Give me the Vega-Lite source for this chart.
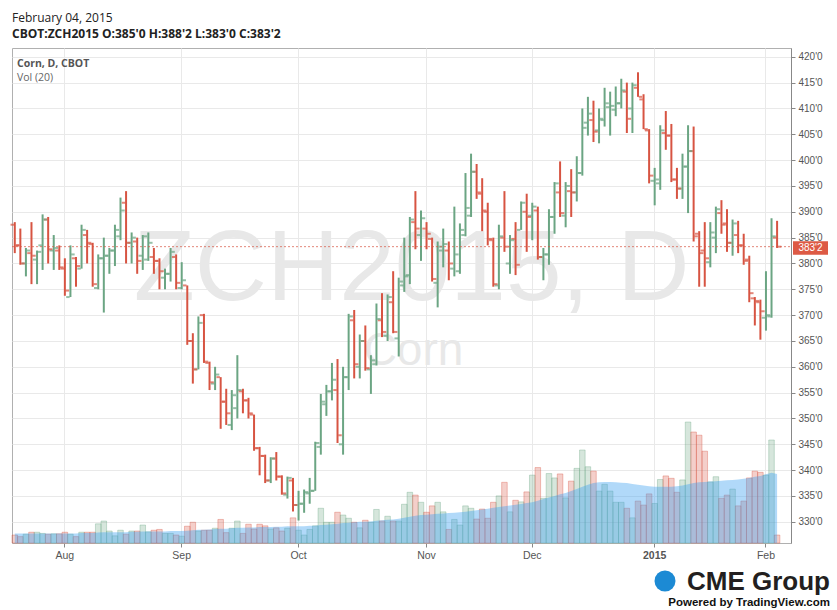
{
"$schema": "https://vega.github.io/schema/vega-lite/v6.json",
"width": 779, "height": 495, "autosize": "none",
"padding": {"left": 12, "top": 48, "right": 46, "bottom": 67},
"background": "#ffffff",
"config": {"view": {"stroke": "#b0b0b0"}},
"title": {"text": "February 04, 2015", "subtitle": "CBOT:ZCH2015 O:385'0 H:388'2 L:383'0 C:383'2", "anchor": "start", "frame": "group", "font": "Open Sans", "fontSize": 12, "fontWeight": "normal", "color": "#222222", "subtitleFont": "Open Sans", "subtitleFontSize": 12, "subtitleFontWeight": "bold", "subtitleColor": "#222222", "offset": 7, "subtitlePadding": 4},
"datasets": {"corn": [
{"d":"2014-07-21","o":387.5,"h":388,"l":382,"c":383.5,"v":20,"ma":24},
{"d":"2014-07-22","o":383.5,"h":386.75,"l":379.75,"c":380,"v":16,"ma":24},
{"d":"2014-07-23","o":380,"h":383,"l":377.5,"c":382.5,"v":22,"ma":24},
{"d":"2014-07-24","o":382,"h":388,"l":376,"c":381.5,"v":27,"ma":24},
{"d":"2014-07-25","o":380.75,"h":382.5,"l":376,"c":382.25,"v":27,"ma":24},
{"d":"2014-07-28","o":383.5,"h":389.5,"l":378.75,"c":388.5,"v":24,"ma":24},
{"d":"2014-07-29","o":388.5,"h":389,"l":380,"c":382.75,"v":22,"ma":24},
{"d":"2014-07-30","o":382.5,"h":385.5,"l":378.75,"c":383,"v":23,"ma":24},
{"d":"2014-07-31","o":382.5,"h":383.5,"l":378.75,"c":379.25,"v":23,"ma":24},
{"d":"2014-08-01","o":379,"h":381,"l":373.75,"c":374.75,"v":27,"ma":24},
{"d":"2014-08-04","o":373.5,"h":383.5,"l":373.5,"c":381.75,"v":22,"ma":24},
{"d":"2014-08-05","o":381,"h":381.25,"l":375.5,"c":379.5,"v":16,"ma":24},
{"d":"2014-08-06","o":379,"h":387.5,"l":379,"c":386.5,"v":27,"ma":25},
{"d":"2014-08-07","o":385.5,"h":386.5,"l":380,"c":384,"v":27,"ma":25},
{"d":"2014-08-08","o":383.75,"h":384,"l":375.5,"c":376,"v":27,"ma":25},
{"d":"2014-08-11","o":375.25,"h":381.75,"l":375,"c":381,"v":48,"ma":26},
{"d":"2014-08-12","o":381,"h":385,"l":370.5,"c":381.5,"v":55,"ma":27},
{"d":"2014-08-13","o":381.5,"h":383,"l":378,"c":382.5,"v":30,"ma":27},
{"d":"2014-08-14","o":382.5,"h":387.5,"l":379.5,"c":386.5,"v":18,"ma":27},
{"d":"2014-08-15","o":385.25,"h":392.75,"l":384.5,"c":390.25,"v":32,"ma":27},
{"d":"2014-08-18","o":391.75,"h":394,"l":380,"c":384,"v":22,"ma":27},
{"d":"2014-08-19","o":384,"h":386,"l":380,"c":385,"v":30,"ma":28},
{"d":"2014-08-20","o":384.25,"h":385,"l":378,"c":380.5,"v":30,"ma":28},
{"d":"2014-08-21","o":381.5,"h":385.5,"l":378.75,"c":385.25,"v":45,"ma":29},
{"d":"2014-08-22","o":380.75,"h":386,"l":380.5,"c":384,"v":28,"ma":29},
{"d":"2014-08-25","o":381.25,"h":383,"l":378,"c":380.5,"v":32,"ma":29},
{"d":"2014-08-26","o":380.5,"h":381,"l":375,"c":378.5,"v":34,"ma":29},
{"d":"2014-08-27","o":377.25,"h":379,"l":375,"c":378,"v":24,"ma":29},
{"d":"2014-08-28","o":378,"h":383,"l":376.5,"c":382.25,"v":24,"ma":30},
{"d":"2014-08-29","o":381.25,"h":381.75,"l":375,"c":376.25,"v":20,"ma":30},
{"d":"2014-09-02","o":375.25,"h":380.25,"l":375,"c":376.75,"v":17,"ma":30},
{"d":"2014-09-03","o":375.75,"h":375.75,"l":364.25,"c":365,"v":42,"ma":31},
{"d":"2014-09-04","o":365,"h":366.5,"l":356.75,"c":359.5,"v":52,"ma":32},
{"d":"2014-09-05","o":359.5,"h":369.75,"l":359.5,"c":368.5,"v":30,"ma":33},
{"d":"2014-09-08","o":370,"h":370.25,"l":360.75,"c":361,"v":32,"ma":33},
{"d":"2014-09-09","o":360.75,"h":361,"l":355.5,"c":357,"v":32,"ma":34},
{"d":"2014-09-10","o":356.75,"h":360,"l":355.5,"c":358.5,"v":37,"ma":35},
{"d":"2014-09-11","o":358,"h":358,"l":348,"c":353.25,"v":59,"ma":36},
{"d":"2014-09-12","o":353.25,"h":355.75,"l":348.75,"c":351,"v":26,"ma":36},
{"d":"2014-09-15","o":348.75,"h":355.5,"l":347.75,"c":354.5,"v":37,"ma":37},
{"d":"2014-09-16","o":352,"h":362.25,"l":350,"c":355.5,"v":55,"ma":38},
{"d":"2014-09-17","o":355.25,"h":355.75,"l":351,"c":353.5,"v":24,"ma":38},
{"d":"2014-09-18","o":353.5,"h":354,"l":350,"c":351,"v":47,"ma":39},
{"d":"2014-09-19","o":350.75,"h":350.75,"l":343.75,"c":344.25,"v":35,"ma":39},
{"d":"2014-09-22","o":344.25,"h":344.5,"l":339,"c":342.75,"v":47,"ma":40},
{"d":"2014-09-23","o":342.75,"h":343,"l":337.5,"c":338,"v":43,"ma":40},
{"d":"2014-09-24","o":338,"h":342.5,"l":337.5,"c":342.25,"v":35,"ma":40},
{"d":"2014-09-25","o":342.25,"h":343.5,"l":338,"c":338.75,"v":38,"ma":41},
{"d":"2014-09-26","o":338.75,"h":339,"l":335.25,"c":335.5,"v":30,"ma":41},
{"d":"2014-09-29","o":335.25,"h":338.75,"l":334.5,"c":338.5,"v":37,"ma":42},
{"d":"2014-09-30","o":338,"h":338.5,"l":332,"c":333.25,"v":63,"ma":42},
{"d":"2014-10-01","o":333.25,"h":336,"l":330.25,"c":333.5,"v":32,"ma":42},
{"d":"2014-10-02","o":333.5,"h":336.25,"l":331.75,"c":335.75,"v":20,"ma":42},
{"d":"2014-10-03","o":335.5,"h":338.5,"l":333.5,"c":336,"v":34,"ma":43},
{"d":"2014-10-06","o":336,"h":345.5,"l":336,"c":345.25,"v":43,"ma":43},
{"d":"2014-10-07","o":344.5,"h":354.75,"l":343,"c":353.25,"v":87,"ma":45},
{"d":"2014-10-08","o":352.75,"h":356.5,"l":350.5,"c":355.25,"v":52,"ma":46},
{"d":"2014-10-09","o":355.25,"h":360.75,"l":353.5,"c":357.5,"v":52,"ma":47},
{"d":"2014-10-10","o":355.5,"h":361.5,"l":345.25,"c":346.75,"v":77,"ma":48},
{"d":"2014-10-13","o":345,"h":360,"l":343,"c":358,"v":70,"ma":50},
{"d":"2014-10-14","o":358,"h":370.25,"l":355.5,"c":369.75,"v":62,"ma":51},
{"d":"2014-10-15","o":369,"h":371,"l":357.75,"c":360.5,"v":52,"ma":52},
{"d":"2014-10-16","o":360,"h":366.25,"l":357.75,"c":365,"v":38,"ma":53},
{"d":"2014-10-17","o":365,"h":368,"l":359.25,"c":359.75,"v":57,"ma":53},
{"d":"2014-10-20","o":359.5,"h":362.25,"l":354.75,"c":361.25,"v":52,"ma":54},
{"d":"2014-10-21","o":360.5,"h":372.25,"l":360.25,"c":369.25,"v":84,"ma":56},
{"d":"2014-10-22","o":369,"h":374.25,"l":365.75,"c":366.75,"v":55,"ma":57},
{"d":"2014-10-23","o":366,"h":374,"l":365,"c":373.5,"v":67,"ma":58},
{"d":"2014-10-24","o":372.5,"h":378.5,"l":366.5,"c":366.75,"v":55,"ma":59},
{"d":"2014-10-27","o":365.5,"h":377.25,"l":362,"c":376.5,"v":55,"ma":61},
{"d":"2014-10-28","o":375.75,"h":385,"l":374.5,"c":377.5,"v":97,"ma":63},
{"d":"2014-10-29","o":377.75,"h":389,"l":376,"c":388.5,"v":127,"ma":66},
{"d":"2014-10-30","o":388,"h":394,"l":382.75,"c":386.75,"v":120,"ma":68},
{"d":"2014-10-31","o":385.5,"h":390.25,"l":380.5,"c":388.75,"v":102,"ma":70},
{"d":"2014-11-03","o":386.75,"h":388,"l":382.75,"c":385.75,"v":77,"ma":71},
{"d":"2014-11-04","o":384.75,"h":385,"l":376.5,"c":377,"v":93,"ma":72},
{"d":"2014-11-05","o":376.25,"h":384.25,"l":371.5,"c":383.25,"v":102,"ma":73},
{"d":"2014-11-06","o":382.5,"h":386.75,"l":379.25,"c":383.75,"v":78,"ma":74},
{"d":"2014-11-07","o":382.5,"h":384.25,"l":376.75,"c":380,"v":34,"ma":75},
{"d":"2014-11-10","o":379,"h":391,"l":377.5,"c":381.75,"v":59,"ma":76},
{"d":"2014-11-11","o":378.5,"h":387.75,"l":378,"c":386.5,"v":45,"ma":77},
{"d":"2014-11-12","o":385.5,"h":397.5,"l":385.25,"c":390.75,"v":93,"ma":78},
{"d":"2014-11-13","o":389.25,"h":401.25,"l":389,"c":397.75,"v":87,"ma":80},
{"d":"2014-11-14","o":397.75,"h":399.25,"l":392.5,"c":393.75,"v":60,"ma":82},
{"d":"2014-11-17","o":393.5,"h":396.5,"l":386.25,"c":390.25,"v":85,"ma":84},
{"d":"2014-11-18","o":390,"h":391.75,"l":383.5,"c":384.75,"v":62,"ma":86},
{"d":"2014-11-19","o":384.5,"h":385,"l":375.5,"c":376,"v":102,"ma":88},
{"d":"2014-11-20","o":375.75,"h":387.5,"l":375,"c":385.25,"v":118,"ma":90},
{"d":"2014-11-21","o":385,"h":394,"l":382.25,"c":383.25,"v":152,"ma":92},
{"d":"2014-11-24","o":380,"h":385.5,"l":378,"c":384.5,"v":78,"ma":94},
{"d":"2014-11-25","o":384.75,"h":388,"l":377.75,"c":379.75,"v":107,"ma":96},
{"d":"2014-11-26","o":386.5,"h":392,"l":386.5,"c":391.75,"v":103,"ma":98},
{"d":"2014-11-28","o":390,"h":393.5,"l":382.25,"c":389,"v":128,"ma":100},
{"d":"2014-12-01","o":389.25,"h":391.75,"l":384.5,"c":391,"v":170,"ma":102},
{"d":"2014-12-02","o":390.25,"h":391,"l":380.75,"c":381.25,"v":189,"ma":106},
{"d":"2014-12-03","o":381.25,"h":383,"l":376.75,"c":381.75,"v":112,"ma":110},
{"d":"2014-12-04","o":381.75,"h":390.5,"l":379.75,"c":389,"v":174,"ma":114},
{"d":"2014-12-05","o":389,"h":395.75,"l":385.75,"c":395.5,"v":163,"ma":118},
{"d":"2014-12-08","o":393.75,"h":399.75,"l":389,"c":389.75,"v":173,"ma":122},
{"d":"2014-12-09","o":389.25,"h":395.75,"l":387,"c":395,"v":113,"ma":125},
{"d":"2014-12-10","o":394,"h":398.25,"l":389,"c":393.75,"v":155,"ma":130},
{"d":"2014-12-11","o":393.75,"h":400.75,"l":392,"c":397.5,"v":187,"ma":135},
{"d":"2014-12-12","o":397.5,"h":410,"l":397,"c":406.25,"v":233,"ma":141},
{"d":"2014-12-15","o":407.25,"h":412.25,"l":404.75,"c":409,"v":191,"ma":146},
{"d":"2014-12-16","o":407.75,"h":411.5,"l":403.5,"c":405.5,"v":180,"ma":150},
{"d":"2014-12-17","o":405.75,"h":410,"l":403.25,"c":408,"v":130,"ma":152},
{"d":"2014-12-18","o":407.75,"h":414,"l":406.5,"c":411,"v":147,"ma":153},
{"d":"2014-12-19","o":410.25,"h":413.25,"l":404.75,"c":410.5,"v":130,"ma":153},
{"d":"2014-12-22","o":409.75,"h":414.25,"l":408.5,"c":411,"v":102,"ma":152},
{"d":"2014-12-23","o":411,"h":415.75,"l":410,"c":413.5,"v":102,"ma":151},
{"d":"2014-12-24","o":413.25,"h":415,"l":405.25,"c":408,"v":87,"ma":150},
{"d":"2014-12-26","o":410,"h":415,"l":405.25,"c":414.5,"v":63,"ma":148},
{"d":"2014-12-29","o":414,"h":417,"l":412.25,"c":412.25,"v":105,"ma":146},
{"d":"2014-12-30","o":411.75,"h":412.75,"l":406,"c":406,"v":95,"ma":144},
{"d":"2014-12-31","o":405.75,"h":406,"l":395.5,"c":397,"v":123,"ma":142},
{"d":"2015-01-02","o":396,"h":398.5,"l":391.25,"c":396.25,"v":99,"ma":141},
{"d":"2015-01-05","o":395.5,"h":406.75,"l":394.25,"c":405.75,"v":159,"ma":141},
{"d":"2015-01-06","o":405.25,"h":409.5,"l":402,"c":404.75,"v":168,"ma":141},
{"d":"2015-01-07","o":404.75,"h":407,"l":395.75,"c":396.25,"v":162,"ma":141},
{"d":"2015-01-08","o":396.25,"h":398.5,"l":392.5,"c":394.5,"v":127,"ma":142},
{"d":"2015-01-09","o":394.5,"h":401.25,"l":392.5,"c":398.75,"v":158,"ma":144},
{"d":"2015-01-12","o":398.75,"h":406.75,"l":389.75,"c":401.75,"v":303,"ma":147},
{"d":"2015-01-13","o":401.75,"h":406.5,"l":384.25,"c":385.25,"v":278,"ma":150},
{"d":"2015-01-14","o":385.75,"h":386.25,"l":375.5,"c":382,"v":270,"ma":152},
{"d":"2015-01-15","o":382.5,"h":388,"l":375.5,"c":381,"v":230,"ma":153},
{"d":"2015-01-16","o":380.25,"h":388,"l":379.25,"c":386,"v":153,"ma":154},
{"d":"2015-01-20","o":385,"h":391,"l":382,"c":390.5,"v":166,"ma":155},
{"d":"2015-01-21","o":389.75,"h":392.25,"l":385.75,"c":387.5,"v":112,"ma":156},
{"d":"2015-01-22","o":387.75,"h":390.5,"l":382.25,"c":384,"v":120,"ma":157},
{"d":"2015-01-23","o":384,"h":388.5,"l":381.5,"c":387.75,"v":135,"ma":158},
{"d":"2015-01-26","o":385.5,"h":388.25,"l":382,"c":383.5,"v":93,"ma":159},
{"d":"2015-01-27","o":383.5,"h":385.75,"l":379.75,"c":380.5,"v":105,"ma":161},
{"d":"2015-01-28","o":380.75,"h":381.5,"l":372.5,"c":374.25,"v":163,"ma":163},
{"d":"2015-01-29","o":373.25,"h":373.5,"l":368,"c":372.75,"v":180,"ma":166},
{"d":"2015-01-30","o":372.5,"h":373,"l":365.25,"c":370.75,"v":177,"ma":168},
{"d":"2015-02-02","o":369.5,"h":378.5,"l":367,"c":370,"v":170,"ma":172},
{"d":"2015-02-03","o":369.75,"h":388.75,"l":369.5,"c":385.25,"v":258,"ma":176},
{"d":"2015-02-04","o":385,"h":388.25,"l":383,"c":383.25,"v":20,"ma":173}
]},
"layer": [
{"data": {"values": [{}]}, "mark": {"type": "text", "text": "ZCH2015, D", "x": {"expr": "width/2 + 10"}, "y": {"expr": "height*0.509"}, "align": "center", "baseline": "alphabetic", "font": "Liberation Sans", "fontSize": 100, "color": "#e8e8e8"}},
{"data": {"values": [{}]}, "mark": {"type": "text", "text": "Corn", "x": {"expr": "width/2 + 12"}, "y": {"expr": "height*0.64"}, "align": "center", "baseline": "alphabetic", "font": "Liberation Sans", "fontSize": 46, "color": "#e8e8e8"}},
{"data": {"name": "corn"}, "mark": {"type": "bar", "fillOpacity": 0.28, "strokeOpacity": 0.35, "strokeWidth": 1},
 "encoding": {"x": {"field": "d", "type": "ordinal", "scale": {"type": "band", "paddingInner": 0, "paddingOuter": 2, "align": 0},
   "axis": {"values": ["2014-08-01","2014-09-02","2014-10-01","2014-11-03","2014-12-01","2015-01-02","2015-02-02"],
     "labelExpr": "datum.value == '2014-08-01' ? 'Aug' : datum.value == '2014-09-02' ? 'Sep' : datum.value == '2014-10-01' ? 'Oct' : datum.value == '2014-11-03' ? 'Nov' : datum.value == '2014-12-01' ? 'Dec' : datum.value == '2015-01-02' ? '2015' : 'Feb'",
     "title": null, "grid": true, "gridColor": "#e9e9e9", "domain": false, "ticks": true, "tickColor": "#888888", "tickSize": 4, "bandPosition": 0.5,
     "labelColor": "#555555", "labelFont": "Liberation Sans", "labelFontSize": 10.5, "labelAngle": 0, "labelPadding": 3,
     "labelFontWeight": {"condition": {"test": "datum.value == '2015-01-02'", "value": "bold"}, "value": "normal"}}},
   "y": {"field": "v", "type": "quantitative", "scale": {"domain": [0, 1240], "nice": false}, "axis": null},
   "color": {"condition": {"test": "datum.c >= datum.o", "value": "#6ba583"}, "value": "#d75442"},
   "stroke": {"condition": {"test": "datum.c >= datum.o", "value": "#6ba583"}, "value": "#d75442"}}},
{"data": {"name": "corn"}, "mark": {"type": "area", "color": "#3ca0f0", "opacity": 0.4},
 "encoding": {"x": {"field": "d", "type": "ordinal"},
   "y": {"field": "ma", "type": "quantitative", "scale": {"domain": [0, 1240], "nice": false}, "axis": null}}},
{"data": {"name": "corn"}, "mark": {"type": "rule", "strokeWidth": 2},
 "encoding": {"x": {"field": "d", "type": "ordinal"},
   "y": {"field": "l", "type": "quantitative", "scale": {"domain": [325.9, 421.7], "nice": false, "zero": false},
     "axis": {"orient": "right", "values": [330,335,340,345,350,355,360,365,370,375,380,385,390,395,400,405,410,415,420],
       "labelExpr": "datum.value + \"'0\"", "title": null, "grid": true, "gridColor": "#e9e9e9", "domainColor": "#888888", "tickColor": "#888888", "tickSize": 4,
       "labelPadding": 3, "labelColor": "#555555", "labelFont": "Liberation Sans", "labelFontSize": 10}},
   "y2": {"field": "h"},
   "color": {"condition": {"test": "datum.c >= datum.o", "value": "#6ba583"}, "value": "#d75442"}}},
{"data": {"name": "corn"}, "mark": {"type": "tick", "orient": "horizontal", "size": 3.5, "thickness": 2, "xOffset": -2.5},
 "encoding": {"x": {"field": "d", "type": "ordinal"},
   "y": {"field": "o", "type": "quantitative", "scale": {"domain": [325.9, 421.7], "nice": false, "zero": false}, "axis": null},
   "color": {"condition": {"test": "datum.c >= datum.o", "value": "#6ba583"}, "value": "#d75442"}}},
{"data": {"name": "corn"}, "mark": {"type": "tick", "orient": "horizontal", "size": 3.5, "thickness": 2, "xOffset": 2.5},
 "encoding": {"x": {"field": "d", "type": "ordinal"},
   "y": {"field": "c", "type": "quantitative", "scale": {"domain": [325.9, 421.7], "nice": false, "zero": false}, "axis": null},
   "color": {"condition": {"test": "datum.c >= datum.o", "value": "#6ba583"}, "value": "#d75442"}}},
{"data": {"values": [{}]}, "mark": {"type": "rule", "color": "#d75442", "strokeDash": [2, 2], "strokeWidth": 1, "opacity": 0.7},
 "encoding": {"x": {"value": 0}, "x2": {"value": "width"}, "y": {"datum": 383.25, "type": "quantitative", "scale": {"domain": [325.9, 421.7], "nice": false, "zero": false}, "axis": null}}},
{"data": {"values": [{}]}, "mark": {"type": "rect", "color": "#dd5a45", "xOffset": 2, "x2Offset": 37},
 "encoding": {"x": {"value": "width"}, "x2": {"value": "width"}, "y": {"datum": 384.3, "type": "quantitative", "scale": {"domain": [325.9, 421.7], "nice": false, "zero": false}, "axis": null}, "y2": {"datum": 381.7}}},
{"data": {"values": [{}]}, "mark": {"type": "text", "text": "383'2", "color": "#ffffff", "font": "Liberation Sans", "fontSize": 10, "dx": 19.5, "align": "center", "baseline": "middle"},
 "encoding": {"x": {"value": "width"}, "y": {"datum": 382.95, "type": "quantitative", "scale": {"domain": [325.9, 421.7], "nice": false, "zero": false}, "axis": null}}},
{"data": {"values": [{}]}, "mark": {"type": "text", "text": "Corn, D, CBOT", "x": 5, "y": 19, "align": "left", "baseline": "alphabetic", "font": "Open Sans", "fontSize": 10.5, "fontWeight": "bold", "color": "#555555"}},
{"data": {"values": [{}]}, "mark": {"type": "text", "text": "Vol (20)", "x": 5, "y": 33, "align": "left", "baseline": "alphabetic", "font": "Open Sans", "fontSize": 10.5, "color": "#666666"}},
{"data": {"values": [{}]}, "mark": {"type": "rule", "x": 0, "y": 0, "y2": {"expr": "height + 22"}, "color": "#999999", "strokeWidth": 2}, "encoding": {}},
{"data": {"values": [{}]}, "mark": {"type": "rule", "x": 0, "x2": {"expr": "width + 46"}, "y": {"expr": "height + 22"}, "color": "#999999", "strokeWidth": 1}, "encoding": {}},
{"data": {"values": [{}]}, "mark": {"type": "rule", "x": {"expr": "width"}, "x2": {"expr": "width + 46"}, "y": 0, "color": "#b0b0b0", "strokeWidth": 1}, "encoding": {}},
{"data": {"values": [{}]}, "mark": {"type": "point", "shape": "circle", "filled": true, "color": "#1c8ad4", "opacity": 1, "size": 440, "x": {"expr": "width - 126"}, "y": {"expr": "height + 38"}}},
{"data": {"values": [{}]}, "mark": {"type": "text", "text": "CME Group", "x": {"expr": "width + 39"}, "y": {"expr": "height + 47"}, "align": "right", "baseline": "alphabetic", "font": "Liberation Sans", "fontSize": 26, "fontWeight": "bold", "color": "#231f20"}},
{"data": {"values": [{}]}, "mark": {"type": "text", "text": "Powered by TradingView.com", "x": {"expr": "width + 39"}, "y": {"expr": "height + 63"}, "align": "right", "baseline": "alphabetic", "font": "Liberation Sans", "fontSize": 11.5, "fontWeight": "bold", "color": "#111111"}}
],
"resolve": {"scale": {"y": "independent"}}
}
